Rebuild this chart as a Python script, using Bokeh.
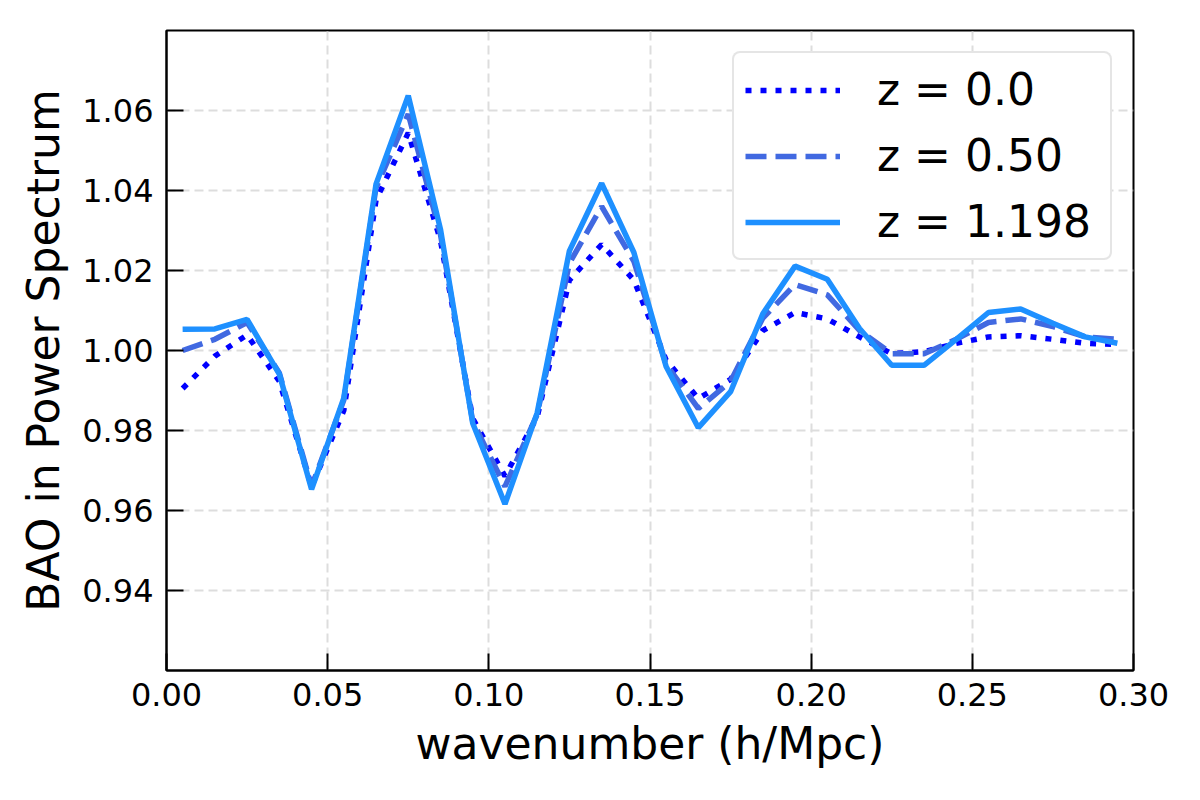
from bokeh.plotting import figure
from bokeh.models import FixedTicker, NumeralTickFormatter, Range1d, Legend, LegendItem
from bokeh.embed import file_html
from bokeh.resources import INLINE

# ---- data ----
k = [0.005, 0.015, 0.025, 0.035, 0.045, 0.055, 0.065, 0.075, 0.085, 0.095,
     0.105, 0.115, 0.125, 0.135, 0.145, 0.155, 0.165, 0.175, 0.185, 0.195,
     0.205, 0.215, 0.225, 0.235, 0.245, 0.255, 0.265, 0.275, 0.285, 0.295]

bao_z0 = [0.9905, 0.9986, 1.0039, 0.9923, 0.9660, 0.9850, 1.0376, 1.0544, 1.0275, 0.9830,
          0.9686, 0.9834, 1.0176, 1.0265, 1.0176, 0.9976, 0.9880, 0.9928, 1.0050, 1.0095,
          1.0079, 1.0034, 0.9992, 0.9997, 1.0018, 1.0034, 1.0037, 1.0028, 1.0018, 1.0015]

bao_z050 = [1.0000, 1.0028, 1.0070, 0.9944, 0.9660, 0.9876, 1.0407, 1.0591, 1.0290, 0.9823,
            0.9660, 0.9840, 1.0218, 1.0360, 1.0223, 0.9965, 0.9855, 0.9923, 1.0081, 1.0165,
            1.0139, 1.0050, 0.9992, 0.9992, 1.0028, 1.0070, 1.0079, 1.0060, 1.0034, 1.0028]

bao_z1198 = [1.0053, 1.0054, 1.0078, 0.9941, 0.9653, 0.9881, 1.0416, 1.0637, 1.0303, 0.9818,
             0.9616, 0.9844, 1.0249, 1.0418, 1.0245, 0.9960, 0.9807, 0.9897, 1.0092, 1.0211,
             1.0178, 1.0055, 0.9963, 0.9963, 1.0028, 1.0095, 1.0104, 1.0068, 1.0034, 1.0018]

series_labels = ["z = 0.0", "z = 0.50", "z = 1.198"]
x_ticks = [0.0, 0.05, 0.10, 0.15, 0.20, 0.25, 0.30]
y_ticks = [0.94, 0.96, 0.98, 1.00, 1.02, 1.04, 1.06]

FONT = "DejaVu Sans"

p = figure(frame_width=967, frame_height=640,
           min_border_left=166, min_border_right=59,
           min_border_top=30, min_border_bottom=122,
           x_range=Range1d(0.0, 0.30), y_range=Range1d(0.92, 1.08),
           output_backend="svg", toolbar_location=None)

p.background_fill_color = "white"
p.border_fill_color = "white"
p.outline_line_color = "black"
p.outline_line_width = 2
p.outline_line_alpha = 1

r0 = p.line(k, bao_z0, line_color="#0000ff", line_width=5.5, line_dash="6 9")
r1 = p.line(k, bao_z050, line_color="#4169e1", line_width=5.5, line_dash="21 9")
r2 = p.line(k, bao_z1198, line_color="#1e90ff", line_width=5.5)

p.xaxis.ticker = FixedTicker(ticks=x_ticks)
p.yaxis.ticker = FixedTicker(ticks=y_ticks)
p.xaxis.formatter = NumeralTickFormatter(format="0.00")
p.yaxis.formatter = NumeralTickFormatter(format="0.00")

for ax in (p.xaxis, p.yaxis):
    ax.axis_line_width = 2
    ax.axis_line_color = "black"
    ax.major_tick_in = 17
    ax.major_tick_out = 0
    ax.major_tick_line_width = 2
    ax.major_tick_line_color = "black"
    ax.minor_tick_line_color = None
    ax.major_label_text_font = FONT
    ax.major_label_text_font_size = "32px"
    ax.major_label_text_color = "black"
    ax.axis_label_text_font = FONT
    ax.axis_label_text_font_size = "44px"
    ax.axis_label_text_font_style = "normal"
    ax.axis_label_text_color = "black"

p.xaxis.axis_label = "wavenumber (h/Mpc)"
p.yaxis.axis_label = "BAO in Power Spectrum"
p.xaxis.major_label_standoff = 12
p.yaxis.major_label_standoff = 13
p.xaxis.axis_label_standoff = 9
p.yaxis.axis_label_standoff = 10

p.grid.grid_line_color = "#dddddd"
p.grid.grid_line_width = 2
p.grid.grid_line_dash = "9 5"

legend = Legend(
    items=[LegendItem(label=series_labels[0], renderers=[r0]),
           LegendItem(label=series_labels[1], renderers=[r1]),
           LegendItem(label=series_labels[2], renderers=[r2])],
    location="top_right",
    label_text_font=FONT, label_text_font_size="44px", label_text_color="black",
    glyph_width=95, glyph_height=48, label_height=48, label_width=222,
    label_standoff=37, spacing=15, padding=11, margin=21,
    border_line_color="#cccccc", border_line_width=2,
    background_fill_color="white", background_fill_alpha=1.0,
)
try:
    legend.border_radius = 8
except Exception:
    pass
p.add_layout(legend)

open("out.html", "w").write(file_html(p, INLINE))
